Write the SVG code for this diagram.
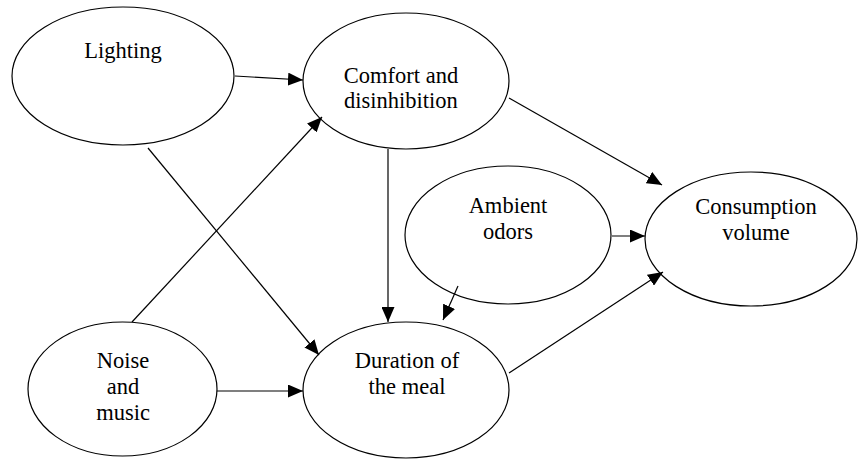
<svg xmlns="http://www.w3.org/2000/svg" width="858" height="459" viewBox="0 0 858 459">
<style>
.n{fill:#fff;stroke:#000;stroke-width:1.2}
text{font-family:"Liberation Serif","Times New Roman",serif;font-size:22.5px;fill:#000;text-anchor:middle}
.c line{stroke:#000;stroke-width:1.2;marker-end:url(#ah)}
</style>
<defs>
<marker id="ah" markerWidth="15" markerHeight="13" refX="15" refY="6.5" orient="auto" markerUnits="userSpaceOnUse"><path d="M0,0 L15,6.5 L0,13 z" fill="#000"/></marker>
</defs>
<rect width="858" height="459" fill="#fff"/>
<g id="lighting"><ellipse class="n" cx="123" cy="76" rx="111" ry="69"/><text x="123" y="58">Lighting</text></g>
<g id="comfort"><ellipse class="n" cx="406" cy="81" rx="103" ry="68"/><text x="401" y="83">Comfort and</text><text x="401" y="108">disinhibition</text></g>
<g id="ambient"><ellipse class="n" cx="508" cy="235" rx="103" ry="69"/><text x="508" y="213">Ambient</text><text x="508" y="239">odors</text></g>
<g id="consumption"><ellipse class="n" cx="751" cy="239" rx="106" ry="67"/><text x="756" y="214">Consumption</text><text x="756" y="240">volume</text></g>
<g id="noise"><ellipse class="n" cx="122.5" cy="389" rx="94.5" ry="67"/><text x="123" y="368">Noise</text><text x="123" y="394">and</text><text x="123" y="420">music</text></g>
<g id="duration"><ellipse class="n" cx="406" cy="390" rx="103" ry="68"/><text x="407" y="368">Duration of</text><text x="407" y="394">the meal</text></g>
<g id="connectors" class="c">
<line x1="235" y1="76" x2="303" y2="80"/>
<line x1="132" y1="322" x2="322" y2="117"/>
<line x1="148" y1="148" x2="319" y2="355"/>
<line x1="388" y1="149" x2="388" y2="322"/>
<line x1="217" y1="391" x2="303" y2="391"/>
<line x1="458" y1="286" x2="443" y2="320"/>
<line x1="509" y1="98" x2="662" y2="185"/>
<line x1="612" y1="236" x2="645" y2="236"/>
<line x1="509" y1="373" x2="663" y2="272"/>
</g>
</svg>
